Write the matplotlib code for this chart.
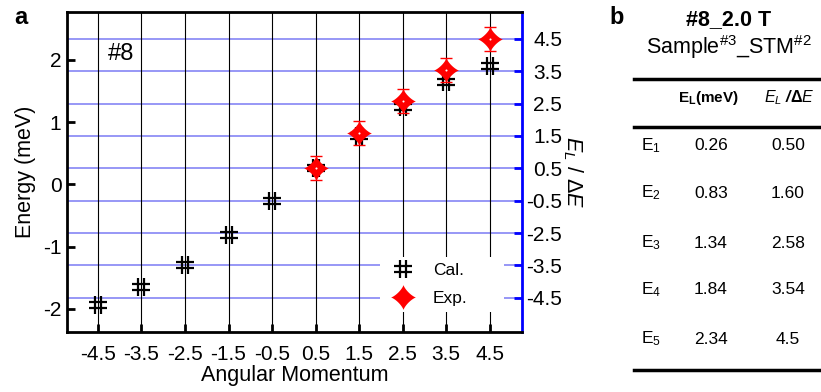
import numpy as np
import matplotlib
matplotlib.use("Agg")
import matplotlib.pyplot as plt
from matplotlib.path import Path
from matplotlib.lines import Line2D

plt.rcParams['font.family'] = ['Liberation Sans', 'DejaVu Sans']
plt.rcParams['axes.unicode_minus'] = False
plt.rcParams['mathtext.fontset'] = 'custom'
plt.rcParams['mathtext.rm'] = 'Liberation Sans'
plt.rcParams['mathtext.it'] = 'Liberation Sans:italic'
plt.rcParams['mathtext.bf'] = 'Liberation Sans:bold'

# --[Data]---------------------------------------------------------------------
momentum = [-4.5, -3.5, -2.5, -1.5, -0.5, 0.5, 1.5, 2.5, 3.5, 4.5]
energy_cal = [-1.93, -1.65, -1.30, -0.81, -0.26, 0.26, 0.78, 1.25, 1.65, 1.90]
momentum_exp = [0.5, 1.5, 2.5, 3.5, 4.5]
energy_exp = [0.26, 0.83, 1.34, 1.84, 2.34]
energy_err = [0.19, 0.19, 0.19, 0.19, 0.19]
delta_e = 0.52  # meV

right_ticks = [4.5, 3.5, 2.5, 1.5, 0.5, -0.5, -1.5, -2.5, -3.5]
right_labels = ['4.5', '3.5', '2.5', '1.5', '0.5', '-0.5', '-2.5', '-3.5', '-4.5']

table_rows = ['E$_{1}$', 'E$_{2}$', 'E$_{3}$', 'E$_{4}$', 'E$_{5}$']
table_energy = ['0.26', '0.83', '1.34', '1.84', '2.34']
table_ratio = ['0.50', '1.60', '2.58', '3.54', '4.5']

# --[Marker shapes]------------------------------------------------------------
sharp = Path([(-0.33, -1), (-0.33, 1), (0.33, -1), (0.33, 1),
              (-1, -0.33), (1, -0.33), (-1, 0.33), (1, 0.33)],
             [Path.MOVETO, Path.LINETO] * 4)

t = np.linspace(0, 2 * np.pi, 81)
c, s = np.cos(t), np.sin(t)
star = Path(np.column_stack([np.sign(c) * np.abs(c) ** 2.6,
                             np.sign(s) * np.abs(s) ** 2.6]), closed=True)

# --[Figure]-------------------------------------------------------------------
W, H = 821, 392
fig = plt.figure(figsize=(W / 100, H / 100), dpi=100)


def px(x, y):
    return x / W, 1 - y / H


ax = fig.add_axes([67 / W, 1 - 332 / H, (522 - 67) / W, (332 - 12) / H])
ax2 = ax.twinx()
ax.set_zorder(ax2.get_zorder() + 1)
ax.patch.set_visible(False)

ylim = (-2.37, 2.77)
ax.set_xlim(-5.21, 5.24)
ax.set_ylim(*ylim)
ax2.set_ylim(ylim[0] / delta_e, ylim[1] / delta_e)

ax.set_xticks(momentum)
ax.set_xticklabels([str(m) for m in momentum])
ax.set_yticks([-2, -1, 0, 1, 2])
ax.xaxis.grid(True, color='black', lw=0.8)

ax2.set_yticks(right_ticks)
ax2.set_yticklabels(right_labels)
ax2.yaxis.grid(True, color='#8585f5', lw=1.2)

for side in ['top', 'left', 'bottom']:
    ax.spines[side].set_linewidth(2)
    ax2.spines[side].set_visible(False)
ax.spines['right'].set_visible(False)
ax2.spines['right'].set_color('blue')
ax2.spines['right'].set_linewidth(2)

ax.tick_params(axis='both', direction='in', length=6, width=2, labelsize=15, pad=4)
ax.tick_params(axis='x', top=False, pad=9)
ax2.tick_params(axis='y', direction='in', length=6, width=2, color='blue',
                labelsize=15, pad=29)
for lab in ax2.get_yticklabels():
    lab.set_horizontalalignment('right')

ax.plot(momentum, energy_cal, linestyle='none', marker=sharp, markersize=13,
        mew=1.6, color='black', label='Cal.')
ax.errorbar(momentum_exp, energy_exp, yerr=energy_err, fmt='none',
            ecolor='red', elinewidth=1, capsize=4, capthick=1)
ax.plot(momentum_exp, energy_exp, linestyle='none', marker=star, markersize=18,
        mew=0, color='red', label='Exp.')
ax.plot(momentum_exp, energy_exp, linestyle='none', marker='o', markersize=1.5,
        mew=0, color='white')

leg = ax.legend(loc='lower left', bbox_to_anchor=(0.688, 0.062, 0.2725, 0.2),
                mode='expand', fontsize=12.5,
                frameon=True, fancybox=False, framealpha=1, edgecolor='none',
                handlelength=2.0, handletextpad=0.7, borderpad=0.35,
                labelspacing=0.75, borderaxespad=0)

ax.set_xlabel('Angular Momentum', fontsize=15.5, labelpad=1)
ax.set_ylabel('Energy (meV)', fontsize=15.5, labelpad=5)
ax2.set_ylabel(r'$E_L\ /\ \Delta E$', fontsize=15.5, rotation=270, labelpad=16)

ax.text(0.09, 0.87, '#8', transform=ax.transAxes, fontsize=17, va='center')

# --[Panel labels]-------------------------------------------------------------
fig.text(*px(14, 18), 'a', fontsize=17, fontweight='bold', va='center')
fig.text(*px(609, 18), 'b', fontsize=17, fontweight='bold', va='center')

# --[Table]--------------------------------------------------------------------
fig.text(*px(729, 20), '#8_2.0 T', fontsize=15.5, fontweight='bold',
         ha='center', va='center')
fig.text(*px(729, 47), 'Sample$^{\\#3}$_STM$^{\\#2}$', fontsize=15.5,
         ha='center', va='center')

for y in [79, 127, 370]:
    fig.add_artist(Line2D([634 / W, 1.0], [1 - y / H, 1 - y / H],
                          color='black', lw=2.5, transform=fig.transFigure))

fig.text(*px(708, 98), r'$\mathbf{E}_{\mathbf{L}}$(meV)', fontsize=11,
         fontweight='bold', ha='center', va='center')
fig.text(*px(789, 98), r'$E_L$ /$\mathbf{\Delta}$$E$', fontsize=11.5,
         fontweight='bold', style='italic', ha='center', va='center')

row_y = [146, 193, 243, 290, 339]
for ry, lab, en, ra in zip(row_y, table_rows, table_energy, table_ratio):
    fig.text(*px(651, ry), lab, fontsize=12.5, ha='center', va='center')
    fig.text(*px(711, ry), en, fontsize=12.5, ha='center', va='center')
    fig.text(*px(788, ry), ra, fontsize=12.5, ha='center', va='center')

fig.savefig('out.png', dpi=100)
